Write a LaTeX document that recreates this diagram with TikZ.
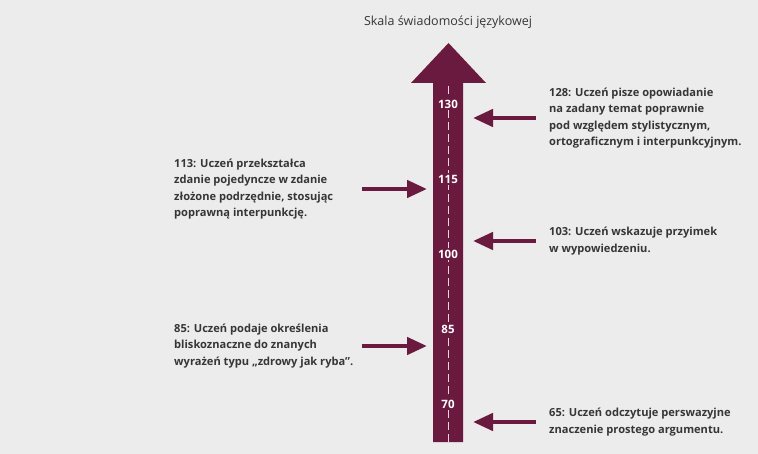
\documentclass[tikz,border=0pt]{standalone}
\usepackage{fontspec}
\setmainfont{Open Sans}
\usepackage{tikz}
\usetikzlibrary{positioning,arrows.meta}
\definecolor{wino}{HTML}{6B1A3F}
\definecolor{tlo}{HTML}{ECECEC}
\definecolor{tekst}{HTML}{363636}
\definecolor{kreska}{HTML}{F2D2E2}
\tikzset{
  opis/.style={anchor=west, align=left, text=tekst, inner sep=0pt,
    font=\fontsize{11.1}{16.3}\selectfont\bfseries},
  liczba/.style={fill=wino, text=white, inner sep=2pt,
    font=\fontsize{11.5}{12}\selectfont\bfseries},
  strzalka/.style={draw=wino, line width=4.5pt,
    -{Triangle[length=20pt,width=17pt]}}
}
\begin{document}
\begin{tikzpicture}[x=1pt,y=-1pt]
    \fill [tlo] (0,0) rectangle (758,454);
    \useasboundingbox (0,0) rectangle (758,454);

    \node [text=tekst, font=\fontsize{12.5}{14}\selectfont] (tytul) at (448,22) {Skala świadomości językowej};

    \fill [wino] (433,442) -- (433,83) -- (411,83) -- (448.5,43) -- (486,83) -- (463,83) -- (463,442) -- cycle;
    \draw [kreska, line width=1pt, dash pattern=on 8pt off 4pt] (448,86) -- (448,442);

    \node [liczba] (l130) at (448,104) {130};
    \node [liczba] (l115) at (448,179) {115};
    \node [liczba] (l100) at (448,254) {100};
    \node [liczba] (l85)  at (448,329) {85};
    \node [liczba] (l70)  at (448,404) {70};

    \coordinate (z128) at (536,118);
    \coordinate (k128) at (473,118);
    \coordinate (z103) at (536,241);
    \coordinate (k103) at (473,241);
    \coordinate (z65)  at (536,422);
    \coordinate (k65)  at (473,422);
    \coordinate (z113) at (362,189);
    \coordinate (k113) at (427,189);
    \coordinate (z85)  at (362,346);
    \coordinate (k85)  at (427,346);

    \draw [strzalka] (z128) -- (k128);
    \draw [strzalka] (z103) -- (k103);
    \draw [strzalka] (z65)  -- (k65);
    \draw [strzalka] (z113) -- (k113);
    \draw [strzalka] (z85)  -- (k85);

    \node [opis, right=13pt of z128] (o128) {128: Uczeń pisze opowiadanie\\na zadany temat poprawnie\\pod względem stylistycznym,\\ortograficznym i interpunkcyjnym.};
    \node [opis, right=13pt of z103] (o103) {103: Uczeń wskazuje przyimek\\w wypowiedzeniu.};
    \node [opis, right=13pt of z65]  (o65)  {65: Uczeń odczytuje perswazyjne\\znaczenie prostego argumentu.};
    \node [opis, anchor=west] (o113) at (174,189) {113: Uczeń przekształca\\zdanie pojedyncze w zdanie\\złożone podrzędnie, stosując\\poprawną interpunkcję.};
    \node [opis, anchor=west] (o85)  at (174,346) {85: Uczeń podaje określenia\\bliskoznaczne do znanych\\wyrażeń typu „zdrowy jak ryba”.};
\end{tikzpicture}
\end{document}
